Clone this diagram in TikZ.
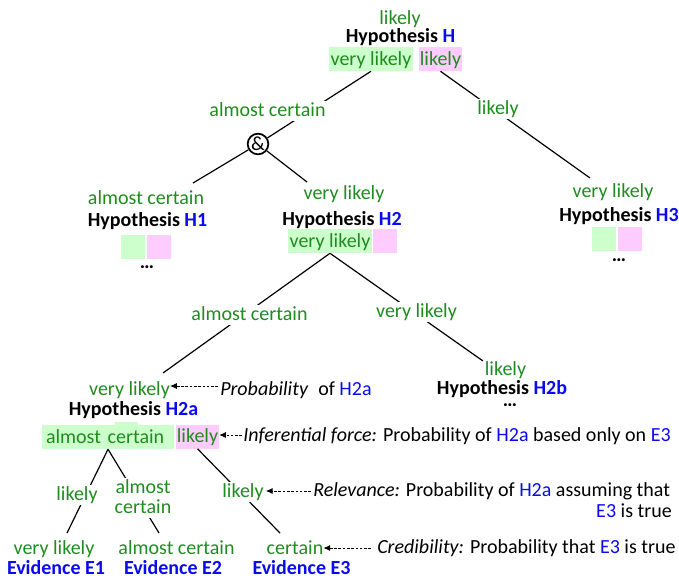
\documentclass[tikz,border=0pt]{standalone}
\usepackage{fontspec}
\setmainfont{Carlito}
\usetikzlibrary{arrows.meta}
\definecolor{grn}{RGB}{30,140,30}
\definecolor{hblue}{RGB}{10,10,240}
\definecolor{gfill}{RGB}{204,255,204}
\definecolor{pfill}{RGB}{255,204,255}

\begin{document}
\begin{tikzpicture}[x=0.75pt,y=-0.75pt, font=\fontsize{15}{18}\selectfont,
  txt/.style={inner sep=0pt, anchor=base, text height=10pt, text depth=2.6pt},
  prob/.style={txt, text=grn},
  onl/.style={prob, fill=white, inner sep=1.5pt},
  hyp/.style={txt, font=\fontsize{15}{18}\selectfont\bfseries},
  ev/.style={hyp, text=hblue},
  dots/.style={hyp, text height=2pt, text depth=0pt},
  box/.style={inner sep=0pt, text height=13.5pt, text depth=4.5pt, text=grn, minimum height=18pt},
  gbox/.style={box, fill=gfill},
  pbox/.style={box, fill=pfill},
  link/.style={line width=0.9pt},
  ann/.style={line width=0.6pt, dash pattern=on 2pt off 1.2pt, -{Latex[length=5pt,width=4.5pt]}},
  note/.style={inner sep=0pt, anchor=base west},
]
\useasboundingbox (0,0) rectangle (679,583);

% top hypothesis
\node[prob] (Hl) at (400,24) {likely};
\node[hyp] (H) at (400.5,42) {Hypothesis \textcolor{hblue}{H}};
\node[gbox, minimum width=63pt] (Hg) at (371,59) {very likely};
\node[pbox, minimum width=32.25pt] (Hp) at (440.5,59) {likely};

% conjunction
\node[draw, circle, line width=1.3pt, minimum size=15.5pt, inner sep=0pt] (amp) at (258,144) {\&};

% H1
\node[prob] (H1l) at (146,204) {almost certain};
\node[hyp] (H1) at (147.5,226) {Hypothesis \textcolor{hblue}{H1}};
\node[gbox, minimum width=18pt] (H1g) at (133,246.5) {};
\node[pbox, minimum width=18pt] (H1p) at (159,246.5) {};
\node[dots] (H1d) at (147,268) {…};

% H2
\node[prob] (H2l) at (344,199) {very likely};
\node[hyp] (H2) at (342,225) {Hypothesis \textcolor{hblue}{H2}};
\node[gbox, minimum width=63pt] (H2g) at (330,241) {very likely};
\node[pbox, minimum width=18pt] (H2p) at (385,241) {};

% H3
\node[prob] (H3l) at (613,197) {very likely};
\node[hyp] (H3) at (619,221) {Hypothesis \textcolor{hblue}{H3}};
\node[gbox, minimum width=18pt] (H3g) at (604,238.5) {};
\node[pbox, minimum width=18pt] (H3p) at (630,238.5) {};
\node[dots] (H3d) at (619,261) {…};

% H2b
\node[prob] (H2bl) at (505.5,375) {likely};
\node[hyp] (H2b) at (502,394) {Hypothesis \textcolor{hblue}{H2b}};
\node[dots] (H2bd) at (510,406) {…};

% H2a
\node[prob] (H2al) at (129.5,395) {very likely};
\node[hyp] (H2a) at (133.5,415) {Hypothesis \textcolor{hblue}{H2a}};
\fill[gfill] (115,422) rectangle (138,426);
\node[gbox, text width=93pt, inner xsep=3pt, align=left] (H2ag) at (108,437) {almost certain};
\node[pbox, minimum width=32.25pt] (H2ap) at (197.5,436.5) {likely};

% evidence
\node[prob] (E1l) at (54,554) {very likely};
\node[ev] (E1) at (56,574) {Evidence E1};
\node[prob] (E2l) at (176.5,554) {almost certain};
\node[ev] (E2) at (173,574) {Evidence E2};
\node[prob] (E3l) at (295,554) {certain};
\node[ev] (E3) at (301.5,574) {Evidence E3};

% free ends of the links
\coordinate (tH1) at (193,183);
\coordinate (tH2) at (307,182);
\coordinate (tH3) at (590,178);
\coordinate (tH2a) at (163,373);
\coordinate (tH2b) at (483,361);
\coordinate (tE1) at (67,533);
\coordinate (tE2) at (159,533);
\coordinate (tE3) at (280,533);

% links
\draw[link] (Hg.south) -- (amp);
\draw[link] (Hp.south) -- (tH3);
\draw[link] (amp) -- (tH1);
\draw[link] (amp) -- (tH2);
\draw[link] (H2g.south) -- (tH2a);
\draw[link] (H2g.south) -- (tH2b);
\draw[link] (H2ag.south) -- (tE1);
\draw[link] (H2ag.south) -- (tE2);
\draw[link] (H2ap.south) -- (tE3);

% labels sitting on the links
\node[onl] (lkHa) at (267.5,116) {almost certain};
\node[onl] (lkHb) at (498,114) {likely};
\node[onl] (lkH2a) at (249.5,320) {almost certain};
\node[onl] (lkH2b) at (416.5,317) {very likely};
\node[onl] (lkE1) at (77,500) {likely};
\node[onl] (lkE2a) at (143,493) {almost};
\node[onl] (lkE2b) at (143,513) {certain};
\node[onl] (lkR) at (243,497) {likely};

% explanatory notes
\node[note] (n1) at (220,395) {\textit{Probability}\hspace{4pt} of \textcolor{hblue}{H2a}};
\node[note] (n2) at (243,441) {\textit{Inferential force:} Probability of \textcolor{hblue}{H2a} based only on \textcolor{hblue}{E3}};
\node[note] (n3) at (313,496) {\textit{Relevance:} Probability of \textcolor{hblue}{H2a} assuming that};
\node[inner sep=0pt, anchor=base east] (n3b) at (672,517) {\textcolor{hblue}{E3} is true};
\node[note] (n4) at (377,553) {\textit{Credibility:} Probability that \textcolor{hblue}{E3} is true};

\coordinate (a1) at (218,386);
\coordinate (a2) at (242,435);
\coordinate (a3) at (311,491);
\coordinate (a4) at (371,548);
\draw[ann] (a1) -- (H2al.east |- a1);
\draw[ann] (a2) -- (H2ap.east |- a2);
\draw[ann] (a3) -- (lkR.east |- a3);
\draw[ann] (a4) -- (E3l.east |- a4);
\end{tikzpicture}
\end{document}
